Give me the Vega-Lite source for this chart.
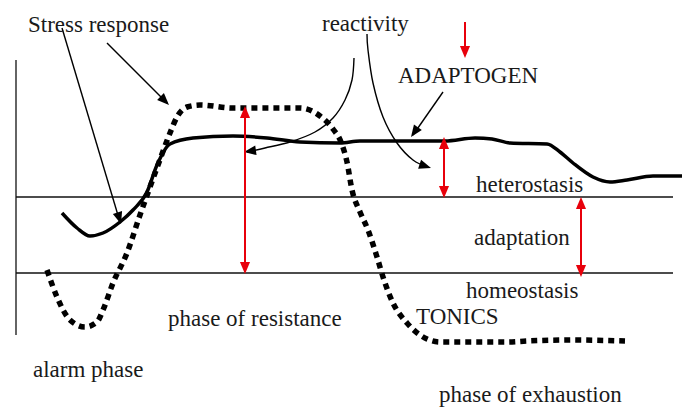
{
  "$schema": "https://vega.github.io/schema/vega-lite/v6.json",
  "width": 682,
  "height": 407,
  "padding": 0,
  "autosize": {"type": "none"},
  "background": "white",
  "config": {"view": {"stroke": null}},
  "datasets": {
    "frame": [
      {"x": 16, "y": 60, "x2": 16, "y2": 335},
      {"x": 16, "y": 197, "x2": 673, "y2": 197},
      {"x": 16, "y": 273, "x2": 673, "y2": 273}
    ],
    "adaptogen": [
      {"x": 62, "y": 213}, {"x": 77, "y": 228}, {"x": 90, "y": 236}, {"x": 103, "y": 233},
      {"x": 120, "y": 222}, {"x": 133, "y": 210}, {"x": 147, "y": 192}, {"x": 157, "y": 165},
      {"x": 170, "y": 144}, {"x": 193, "y": 138}, {"x": 233, "y": 136}, {"x": 267, "y": 138},
      {"x": 300, "y": 142}, {"x": 340, "y": 143}, {"x": 360, "y": 141}, {"x": 420, "y": 141},
      {"x": 445, "y": 141}, {"x": 475, "y": 138}, {"x": 492, "y": 139}, {"x": 510, "y": 143},
      {"x": 547, "y": 144}, {"x": 560, "y": 152}, {"x": 573, "y": 163}, {"x": 593, "y": 177},
      {"x": 610, "y": 182}, {"x": 627, "y": 180}, {"x": 653, "y": 176}, {"x": 682, "y": 176}
    ],
    "tonics": [
      {"x": 47, "y": 270}, {"x": 57, "y": 297}, {"x": 70, "y": 320}, {"x": 85, "y": 327},
      {"x": 97, "y": 322}, {"x": 103, "y": 310}, {"x": 113, "y": 283}, {"x": 127, "y": 253},
      {"x": 140, "y": 215}, {"x": 150, "y": 187}, {"x": 158, "y": 165}, {"x": 170, "y": 133},
      {"x": 177, "y": 117}, {"x": 187, "y": 107}, {"x": 200, "y": 105}, {"x": 233, "y": 108},
      {"x": 267, "y": 108}, {"x": 300, "y": 108}, {"x": 320, "y": 116}, {"x": 333, "y": 129},
      {"x": 341, "y": 142}, {"x": 347, "y": 162}, {"x": 352, "y": 190}, {"x": 360, "y": 212},
      {"x": 368, "y": 230}, {"x": 377, "y": 257}, {"x": 384, "y": 280}, {"x": 393, "y": 303},
      {"x": 407, "y": 323}, {"x": 427, "y": 339}, {"x": 440, "y": 342}, {"x": 507, "y": 342},
      {"x": 527, "y": 341}, {"x": 573, "y": 340}, {"x": 625, "y": 341}
    ],
    "curveArrow1": [
      {"i": 1, "x": 354, "y": 58}, {"i": 2, "x": 352, "y": 80}, {"i": 3, "x": 345, "y": 100},
      {"i": 4, "x": 333, "y": 118}, {"i": 5, "x": 315, "y": 132}, {"i": 6, "x": 290, "y": 142},
      {"i": 7, "x": 265, "y": 148}, {"i": 8, "x": 247, "y": 152}
    ],
    "curveArrow2": [
      {"i": 1, "x": 367, "y": 34}, {"i": 2, "x": 368, "y": 50}, {"i": 3, "x": 373, "y": 83},
      {"i": 4, "x": 383, "y": 117}, {"i": 5, "x": 397, "y": 143}, {"i": 6, "x": 413, "y": 160},
      {"i": 7, "x": 428, "y": 167}
    ],
    "blackRules": [
      {"x": 62, "y": 28, "x2": 120, "y2": 222},
      {"x": 107, "y": 43, "x2": 167, "y2": 103},
      {"x": 443, "y": 92, "x2": 413, "y2": 135}
    ],
    "redRules": [
      {"x": 245, "y": 110, "x2": 245, "y2": 270},
      {"x": 444, "y": 140, "x2": 444, "y2": 194},
      {"x": 581, "y": 200, "x2": 581, "y2": 273},
      {"x": 465, "y": 22, "x2": 465, "y2": 54}
    ],
    "redUp": [
      {"x": 245, "y": 106}, {"x": 444, "y": 137}, {"x": 581, "y": 197}
    ],
    "redDown": [
      {"x": 245, "y": 274}, {"x": 444, "y": 198}, {"x": 581, "y": 277}, {"x": 465, "y": 58}
    ],
    "labels": [
      {"x": 28, "y": 32, "t": "Stress response"},
      {"x": 322, "y": 31, "t": "reactivity"},
      {"x": 398, "y": 83, "t": "ADAPTOGEN"},
      {"x": 476, "y": 192, "t": "heterostasis"},
      {"x": 474, "y": 245, "t": "adaptation"},
      {"x": 466, "y": 298, "t": "homeostasis"},
      {"x": 416, "y": 324, "t": "TONICS"},
      {"x": 168, "y": 326, "t": "phase of resistance"},
      {"x": 33, "y": 377, "t": "alarm phase"},
      {"x": 439, "y": 402, "t": "phase of exhaustion"}
    ]
  },
  "encoding": {
    "x": {"field": "x", "type": "quantitative", "scale": {"domain": [0, 682], "nice": false, "zero": false}, "axis": null},
    "y": {"field": "y", "type": "quantitative", "scale": {"domain": [0, 407], "nice": false, "zero": false, "reverse": true}, "axis": null}
  },
  "layer": [
    {
      "data": {"name": "frame"},
      "mark": {"type": "rule", "color": "#111", "strokeWidth": 1.3},
      "encoding": {"x2": {"field": "x2"}, "y2": {"field": "y2"}}
    },
    {
      "data": {"name": "adaptogen"},
      "mark": {"type": "line", "color": "#000", "strokeWidth": 3.5, "interpolate": "monotone"}
    },
    {
      "data": {"name": "tonics"},
      "mark": {"type": "line", "color": "#000", "strokeWidth": 5.5, "interpolate": "monotone", "strokeDash": [6, 5], "strokeCap": "butt"}
    },
    {
      "data": {"name": "curveArrow1"},
      "mark": {"type": "line", "color": "#000", "strokeWidth": 1.4, "interpolate": "cardinal"},
      "encoding": {"order": {"field": "i", "type": "quantitative"}}
    },
    {
      "data": {"name": "curveArrow2"},
      "mark": {"type": "line", "color": "#000", "strokeWidth": 1.4, "interpolate": "cardinal"},
      "encoding": {"order": {"field": "i", "type": "quantitative"}}
    },
    {
      "data": {"name": "blackRules"},
      "mark": {"type": "rule", "color": "#000", "strokeWidth": 1.4},
      "encoding": {"x2": {"field": "x2"}, "y2": {"field": "y2"}}
    },
    {
      "data": {"values": [{"x": 121, "y": 224}]},
      "mark": {"type": "point", "shape": "M0,0 L-0.4,1 L0.4,1 Z", "filled": true, "color": "#000", "opacity": 1, "size": 576, "angle": 163}
    },
    {
      "data": {"values": [{"x": 169, "y": 105}]},
      "mark": {"type": "point", "shape": "M0,0 L-0.4,1 L0.4,1 Z", "filled": true, "color": "#000", "opacity": 1, "size": 576, "angle": 135}
    },
    {
      "data": {"values": [{"x": 244, "y": 152}]},
      "mark": {"type": "point", "shape": "M0,0 L-0.4,1 L0.4,1 Z", "filled": true, "color": "#000", "opacity": 1, "size": 576, "angle": 262}
    },
    {
      "data": {"values": [{"x": 431, "y": 168}]},
      "mark": {"type": "point", "shape": "M0,0 L-0.4,1 L0.4,1 Z", "filled": true, "color": "#000", "opacity": 1, "size": 576, "angle": 108}
    },
    {
      "data": {"values": [{"x": 411, "y": 137}]},
      "mark": {"type": "point", "shape": "M0,0 L-0.4,1 L0.4,1 Z", "filled": true, "color": "#000", "opacity": 1, "size": 576, "angle": 215}
    },
    {
      "data": {"name": "redRules"},
      "mark": {"type": "rule", "color": "#e8000b", "strokeWidth": 2},
      "encoding": {"x2": {"field": "x2"}, "y2": {"field": "y2"}}
    },
    {
      "data": {"name": "redUp"},
      "mark": {"type": "point", "shape": "M0,0 L-0.42,1 L0.42,1 Z", "filled": true, "color": "#e8000b", "opacity": 1, "size": 576, "angle": 0}
    },
    {
      "data": {"name": "redDown"},
      "mark": {"type": "point", "shape": "M0,0 L-0.42,1 L0.42,1 Z", "filled": true, "color": "#e8000b", "opacity": 1, "size": 576, "angle": 180}
    },
    {
      "data": {"name": "labels"},
      "mark": {"type": "text", "font": "Liberation Serif", "fontSize": 23, "color": "#1a1a1a", "align": "left", "baseline": "alphabetic"},
      "encoding": {"text": {"field": "t"}}
    }
  ]
}
